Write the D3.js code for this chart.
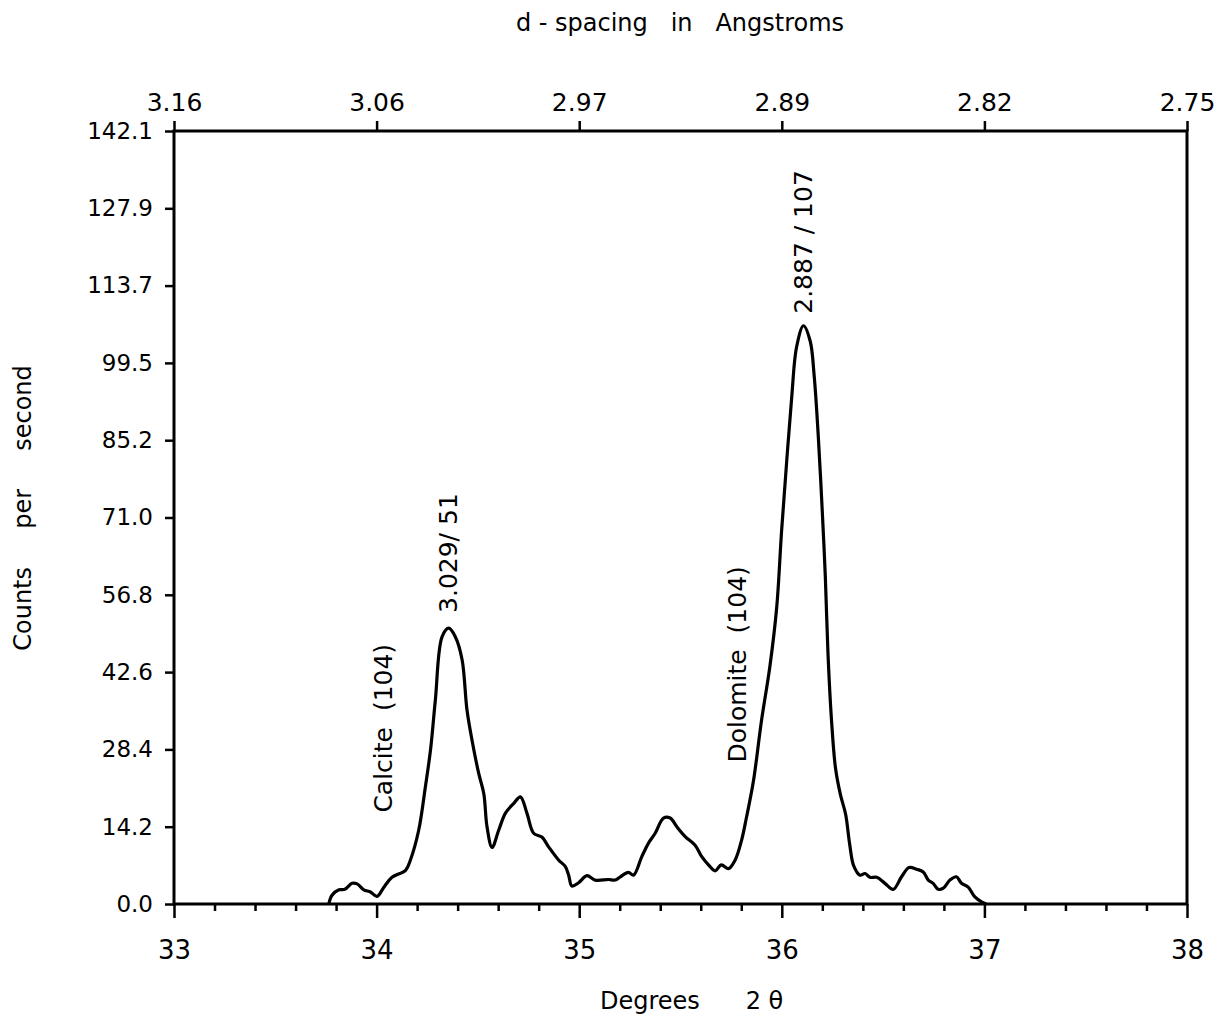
<!DOCTYPE html>
<html>
<head>
<meta charset="utf-8">
<script src="https://cdn.jsdelivr.net/npm/d3@7"></script>
<style>
  body { margin: 0; background: #fff; }
  text { font-family: "DejaVu Sans", sans-serif; fill: #000; white-space: pre; }
</style>
</head>
<body>
<div id="chart-area"></div>
<script>
// XRD scan: calcite + dolomite (104) peaks

// two-theta (degrees) and counts per second
const twoTheta = [33.764, 33.780, 33.814, 33.843, 33.879, 33.904, 33.937, 33.970, 34.002, 34.036,
  34.076, 34.143, 34.167, 34.208, 34.241, 34.266, 34.290, 34.323, 34.356, 34.389,
  34.422, 34.446, 34.471, 34.504, 34.529, 34.545, 34.570, 34.603, 34.636, 34.677,
  34.710, 34.742, 34.775, 34.816, 34.849, 34.898, 34.931, 34.948, 34.964, 34.997,
  35.038, 35.079, 35.145, 35.178, 35.203, 35.243, 35.268, 35.309, 35.342, 35.375,
  35.416, 35.449, 35.482, 35.523, 35.572, 35.605, 35.638, 35.671, 35.701, 35.737,
  35.770, 35.802, 35.825, 35.860, 35.899, 35.942, 35.975, 35.999, 36.024, 36.049,
  36.073, 36.107, 36.140, 36.160, 36.180, 36.200, 36.215, 36.228, 36.245, 36.265,
  36.290, 36.315, 36.335, 36.355, 36.386, 36.411, 36.435, 36.468, 36.509, 36.550,
  36.591, 36.628, 36.665, 36.698, 36.723, 36.747, 36.772, 36.797, 36.830, 36.862,
  36.887, 36.920, 36.953, 36.986, 37.010];
const counts = [0.0, 1.6, 2.6, 2.7, 3.8, 3.7, 2.6, 2.2, 1.4, 3.1,
  4.9, 6.2, 8.1, 13.6, 21.6, 28.3, 37.5, 49.1, 50.7, 49.1,
  44.9, 35.7, 30.1, 24.0, 20.3, 14.2, 10.4, 13.6, 16.7, 18.5,
  19.7, 16.7, 13.0, 12.3, 10.5, 8.1, 6.9, 5.3, 3.3, 3.9,
  5.2, 4.4, 4.5, 4.4, 5.0, 5.8, 5.3, 8.7, 11.2, 13.0,
  15.8, 15.8, 14.2, 12.4, 10.8, 8.7, 7.2, 6.1, 7.2, 6.5,
  8.1, 11.8, 15.8, 22.6, 33.5, 43.9, 54.6, 68.6, 81.3, 93.2,
  102.4, 106.3, 103.5, 97.0, 86.0, 72.0, 60.0, 46.0, 34.0, 25.0,
  20.0, 16.5, 11.0, 7.0, 5.3, 5.6, 4.9, 4.9, 3.8, 2.7,
  5.0, 6.7, 6.4, 5.9, 4.4, 3.8, 2.7, 2.9, 4.4, 5.0,
  3.8, 3.1, 1.3, 0.4, 0.0];

// bottom axis ticks
const degMajor = [33, 34, 35, 36, 37, 38];
const degMinor = [33.2, 33.4, 33.6, 33.8, 34.2, 34.4, 34.6, 34.8, 35.2, 35.4, 35.6, 35.8,
  36.2, 36.4, 36.6, 36.8, 37.2, 37.4, 37.6, 37.8];
// top axis: d-spacing labels sitting on the integer degree positions
const dLabels = ["3.16", "3.06", "2.97", "2.89", "2.82", "2.75"];
// left axis
const cpsTicks = [0, 14.21, 28.42, 42.63, 56.84, 71.05, 85.26, 99.47, 113.68, 127.89, 142.1];
const cpsLabels = ["0.0", "14.2", "28.4", "42.6", "56.8", "71.0", "85.2", "99.5", "113.7", "127.9", "142.1"];

// peak annotations (x in degrees, y in cps where text starts)
const peakNotes = [
  { text: "Calcite  (104)", deg: 34.03, cps: 16.8 },
  { text: "3.029/ 51", deg: 34.35, cps: 53.5 },
  { text: "Dolomite  (104)", deg: 35.78, cps: 26.0 },
  { text: "2.887 / 107", deg: 36.105, cps: 108.5 }
];

const W = 1228, H = 1032;
const svg = d3.select("#chart-area").append("svg")
  .attr("width", W).attr("height", H);

let x = d3.scaleLinear().domain([33, 38]).range([174, 1187]);
let y = d3.scaleLinear().domain([0, 142.1]).range([904, 131]);

// box
svg.append("rect")
  .attr("x", x(33)).attr("y", y(142.1))
  .attr("width", x(38) - x(33)).attr("height", y(0) - y(142.1))
  .attr("fill", "none").attr("stroke", "#000").attr("stroke-width", 3);

// bottom axis, major ticks with labels
let xAxis = d3.axisBottom(x).tickValues(degMajor).tickSize(14).tickSizeOuter(0)
  .tickFormat(d3.format("d"));
let xAxisGroup = svg.append("g").attr("transform", "translate(0," + y(0) + ")").call(xAxis);
xAxisGroup.select(".domain").remove();
xAxisGroup.selectAll(".tick line").attr("stroke-width", 2.5);
xAxisGroup.selectAll(".tick text").attr("font-size", 26).attr("dy", "1.45em")
  .attr("font-family", "DejaVu Sans");

// bottom minor ticks
let xMinor = d3.axisBottom(x).tickValues(degMinor).tickSize(7).tickFormat("");
let xMinorGroup = svg.append("g").attr("transform", "translate(0," + y(0) + ")").call(xMinor);
xMinorGroup.select(".domain").remove();
xMinorGroup.selectAll(".tick line").attr("stroke-width", 2.5);

// top axis with d-spacing
let topAxis = d3.axisTop(x).tickValues(degMajor).tickSize(10)
  .tickFormat((d, i) => dLabels[i]);
let topGroup = svg.append("g").attr("transform", "translate(0," + y(142.1) + ")").call(topAxis);
topGroup.select(".domain").remove();
topGroup.selectAll(".tick line").attr("stroke-width", 2.5);
topGroup.selectAll(".tick text").attr("font-size", 25).attr("dy", "-0.3em")
  .attr("font-family", "DejaVu Sans");

// left axis
let yAxis = d3.axisLeft(y).tickValues(cpsTicks).tickSize(9)
  .tickFormat((d, i) => cpsLabels[i]);
let yAxisGroup = svg.append("g").attr("transform", "translate(" + x(33) + ",0)").call(yAxis);
yAxisGroup.select(".domain").remove();
yAxisGroup.selectAll(".tick line").attr("stroke-width", 2.5);
yAxisGroup.selectAll(".tick text").attr("font-size", 23).attr("x", -21)
  .attr("font-family", "DejaVu Sans");

// the scan
const pts = twoTheta.map((t, i) => [t, counts[i]]);
svg.append("path")
  .datum(pts)
  .attr("fill", "none")
  .attr("stroke", "#000")
  .attr("stroke-width", 3.2)
  .attr("stroke-linejoin", "round")
  .attr("d", d3.line().x(d => x(d[0])).y(d => y(d[1])).curve(d3.curveCatmullRom.alpha(0.5)));

// peak labels, rotated
svg.selectAll(".note")
  .data(peakNotes)
  .enter()
  .append("text")
  .attr("class", "note")
  .attr("transform", d => "translate(" + x(d.deg) + "," + y(d.cps) + ") rotate(-90)")
  .attr("dy", "0.36em")
  .attr("font-size", 25)
  .text(d => d.text);

// titles
svg.append("text")
  .attr("x", 680).attr("y", 31)
  .attr("text-anchor", "middle")
  .attr("font-size", 24)
  .text("d - spacing   in   Angstroms");

svg.append("text")
  .attr("transform", "translate(31,508) rotate(-90)")
  .attr("text-anchor", "middle")
  .attr("font-size", 24)
  .text("Counts     per     second");

svg.append("text")
  .attr("x", 600).attr("y", 1009)
  .attr("font-size", 24)
  .text("Degrees      2 \u03b8");
</script>
</body>
</html>
